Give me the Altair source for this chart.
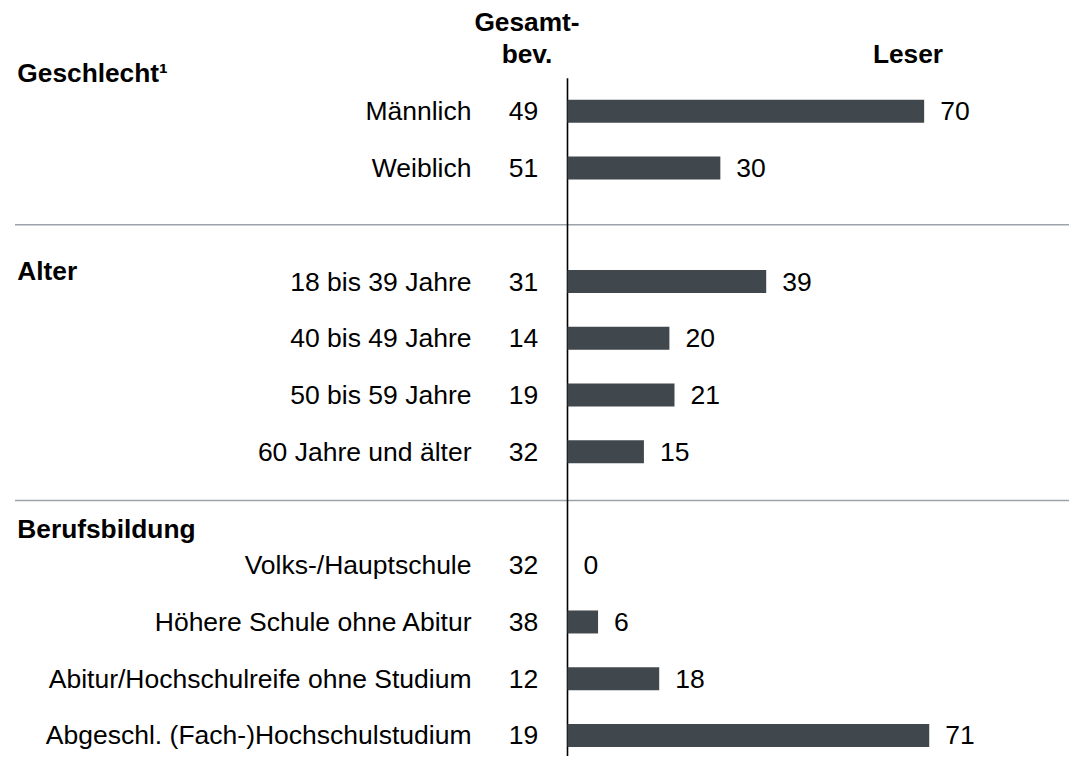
import altair as alt
import pandas as pd

# ---- data ----
categories = [
    "Männlich", "Weiblich",
    "18 bis 39 Jahre", "40 bis 49 Jahre", "50 bis 59 Jahre", "60 Jahre und älter",
    "Volks-/Hauptschule", "Höhere Schule ohne Abitur",
    "Abitur/Hochschulreife ohne Studium", "Abgeschl. (Fach-)Hochschulstudium",
]
gesamt = [49, 51, 31, 14, 19, 32, 32, 38, 12, 19]
leser = [70, 30, 39, 20, 21, 15, 0, 6, 18, 71]
row_slots = [0, 1, 3, 4, 5, 6, 8, 9, 10, 11]

section_titles = ["Geschlecht¹", "Alter", "Berufsbildung"]
section_slots = [-0.68, 2.80, 7.36]
separator_slots = [2.0, 6.86]
zero_line = [0]
col_header_left = ["Gesamt-", "bev."]
col_header_right = ["Leser"]

df = pd.DataFrame({"cat": categories, "ges": gesamt, "les": leser, "slot": row_slots})
sec = pd.DataFrame({"title": section_titles, "slot": section_slots})
sep = pd.DataFrame({"slot": separator_slots})
zl = pd.DataFrame({"v": zero_line})
hl = pd.DataFrame({"t": [col_header_left]})
hr = pd.DataFrame({"t": col_header_right})

FONT = "Liberation Sans"
FS = 26.5
FSB = 26.3
W, H = 1061, 748
BAR = "#40474d"

xs = alt.Scale(domain=[0, 100], range=[559.5, 1069], nice=False, zero=False)
ys = alt.Scale(domain=[0, 11], range=[98.3, 732.45], nice=False, zero=False)

bars = alt.Chart(df).mark_bar(color=BAR, size=23, orient="horizontal").encode(
    x=alt.X("les:Q", scale=xs, axis=None),
    x2=alt.datum(0),
    y=alt.Y("slot:Q", scale=ys, axis=None),
)

vals = alt.Chart(df).mark_text(
    align="left", baseline="middle", dx=16, dy=1, font=FONT, fontSize=FS, color="black"
).encode(
    x=alt.X("les:Q", scale=xs, axis=None),
    y=alt.Y("slot:Q", scale=ys, axis=None),
    text="les:Q",
)

labels = alt.Chart(df).mark_text(
    align="right", baseline="middle", dy=1, font=FONT, fontSize=FS, color="black"
).encode(
    x=alt.value(463.5),
    y=alt.Y("slot:Q", scale=ys, axis=None),
    text="cat:N",
)

gvals = alt.Chart(df).mark_text(
    align="right", baseline="middle", dy=1, font=FONT, fontSize=FS, color="black"
).encode(
    x=alt.value(530.3),
    y=alt.Y("slot:Q", scale=ys, axis=None),
    text="ges:Q",
)

sections = alt.Chart(sec).mark_text(
    align="left", baseline="middle", dy=1.5, font=FONT, fontSize=FSB, fontWeight="bold", color="black"
).encode(
    x=alt.value(9.3),
    y=alt.Y("slot:Q", scale=ys, axis=None),
    text="title:N",
)

seps = alt.Chart(sep).mark_rule(color="#9ba4ab", strokeWidth=1.6).encode(
    y=alt.Y("slot:Q", scale=ys, axis=None),
    x=alt.value(7),
    x2=alt.value(W),
)

vline = alt.Chart(zl).mark_rule(color="black", strokeWidth=1.6).encode(
    x=alt.X("v:Q", scale=xs, axis=None),
    y=alt.value(70.3),
    y2=alt.value(H),
)

head_l = alt.Chart(hl).mark_text(
    align="center", baseline="alphabetic", font=FONT, fontSize=FSB, fontWeight="bold",
    color="black", lineHeight=31.5,
).encode(x=alt.value(519), y=alt.value(23), text="t")

head_r = alt.Chart(hr).mark_text(
    align="center", baseline="alphabetic", font=FONT, fontSize=FSB, fontWeight="bold",
    color="black",
).encode(x=alt.value(900), y=alt.value(54.7), text="t:N")

chart = alt.layer(seps, vline, bars, vals, labels, gvals, sections, head_l, head_r).properties(
    width=W, height=H, padding=0, autosize=alt.AutoSizeParams(type="none")
).configure_view(stroke=None)

chart.save("out.html", embed_options={"renderer": "svg", "actions": False})
